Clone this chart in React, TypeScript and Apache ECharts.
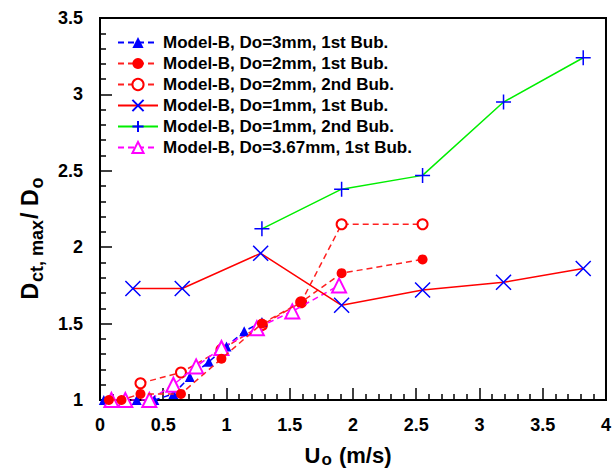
import React, { useEffect, useRef } from "react";
import * as echarts from "echarts";

const FONT = "'Liberation Sans', Arial, sans-serif";

const seriesNames = [
  "Model-B, Do=3mm, 1st Bub.",
  "Model-B, Do=2mm, 1st Bub.",
  "Model-B, Do=2mm, 2nd Bub.",
  "Model-B, Do=1mm, 1st Bub.",
  "Model-B, Do=1mm, 2nd Bub.",
  "Model-B, Do=3.67mm, 1st Bub.",
];

const x3mm1 = [0.03, 0.29, 0.43, 0.58, 0.71, 0.86, 1.0, 1.14, 1.28];
const y3mm1 = [1.0, 1.0, 1.0, 1.04, 1.15, 1.25, 1.35, 1.45, 1.51];

const x2mm1 = [0.07, 0.17, 0.32, 0.64, 0.96, 1.28, 1.59, 1.91, 2.55];
const y2mm1 = [1.0, 1.0, 1.04, 1.04, 1.27, 1.5, 1.64, 1.83, 1.92];

const x2mm2 = [0.32, 0.64, 0.96, 1.28, 1.59, 1.91, 2.55];
const y2mm2 = [1.11, 1.18, 1.33, 1.49, 1.64, 2.15, 2.15];

const x1mm1 = [0.26, 0.65, 1.27, 1.91, 2.55, 3.19, 3.82];
const y1mm1 = [1.73, 1.73, 1.96, 1.62, 1.72, 1.77, 1.86];

const x1mm2 = [1.28, 1.91, 2.55, 3.19, 3.82];
const y1mm2 = [2.12, 2.38, 2.47, 2.95, 3.24];

const x367mm1 = [0.09, 0.2, 0.39, 0.58, 0.76, 0.96, 1.24, 1.52, 1.89];
const y367mm1 = [1.0, 1.0, 1.0, 1.1, 1.22, 1.34, 1.47, 1.58, 1.75];

const xTitle = "{b|U}{s|o}{b| (m/s)}";
const yTitle = "{b|D}{s|ct, max}{b|/ D}{s|o}";

const pairs = (xs: number[], ys: number[]) => xs.map((x, i) => [x, ys[i]]);

const CROSS = "path://M0,0 L10,10 M10,0 L0,10";
const PLUS = "path://M5,0 L5,10 M0,5 L10,5";

export default function App() {
  const ref = useRef<HTMLDivElement>(null);
  useEffect(() => {
    if (!ref.current) return;
    const chart = echarts.init(ref.current, null, { renderer: "svg" });
    const dashed = { type: [6, 4] as any, width: 1.5 };
    const titleRich = (big: number, small: number, drop: number) => ({
      b: { fontSize: big, fontWeight: "bold", fill: "#000", fontFamily: FONT, lineHeight: big + 2, verticalAlign: "top" },
      s: { fontSize: small, fontWeight: "bold", fill: "#000", fontFamily: FONT, lineHeight: small + 1, padding: [drop, 1, 0, 1], verticalAlign: "top" },
    });
    const option: any = {
      animation: false,
      backgroundColor: "#fff",
      textStyle: { fontFamily: FONT },
      grid: {
        left: 100,
        right: 5,
        top: 18,
        bottom: 71,
        show: true,
        borderColor: "#000",
        borderWidth: 2,
        backgroundColor: "transparent",
      },
      legend: {
        orient: "vertical",
        left: 112,
        top: 29,
        itemWidth: 40,
        itemHeight: 14,
        itemGap: 4,
        textStyle: { fontSize: 17, fontWeight: "bold", color: "#000", fontFamily: FONT },
        data: seriesNames,
      },
      graphic: [
        {
          type: "text",
          x: 348,
          y: 456,
          style: { text: xTitle, align: "center", verticalAlign: "middle", rich: titleRich(22, 17, 7) },
        },
        {
          type: "text",
          x: 31,
          y: 238,
          rotation: Math.PI / 2,
          style: { text: yTitle, align: "center", verticalAlign: "middle", rich: titleRich(23, 18, 9) },
        },
      ],
      xAxis: {
        type: "value",
        min: 0,
        max: 4,
        interval: 0.5,
        axisLine: { show: true, lineStyle: { color: "#000", width: 2 } },
        axisTick: { show: true, inside: true, length: 12, lineStyle: { color: "#000", width: 1.5 } },
        minorTick: { show: true, splitNumber: 5, length: 6, lineStyle: { color: "#000", width: 1.5 } },
        splitLine: { show: false },
        axisLabel: {
          fontSize: 18,
          fontWeight: "bold",
          color: "#000",
          fontFamily: FONT,
          margin: 16,
          formatter: (v: number) => String(v),
        },
      },
      yAxis: {
        type: "value",
        min: 1,
        max: 3.5,
        interval: 0.5,
        axisLine: { show: true, lineStyle: { color: "#000", width: 2 } },
        axisTick: { show: true, inside: true, length: 12, lineStyle: { color: "#000", width: 1.5 } },
        minorTick: { show: true, splitNumber: 5, length: 6, lineStyle: { color: "#000", width: 1.5 } },
        splitLine: { show: false },
        axisLabel: {
          fontSize: 18,
          fontWeight: "bold",
          color: "#000",
          fontFamily: FONT,
          margin: 17,
          formatter: (v: number) => String(v),
        },
      },
      series: [
        {
          name: seriesNames[0],
          type: "line",
          data: pairs(x3mm1, y3mm1),
          symbol: "triangle",
          symbolSize: 10,
          itemStyle: { color: "#0000ff" },
          lineStyle: { ...dashed, color: "#0000ff" },
          z: 3,
        },
        {
          name: seriesNames[1],
          type: "line",
          data: pairs(x2mm1, y2mm1),
          symbol: "circle",
          symbolSize: 10,
          itemStyle: { color: "#ff0000" },
          lineStyle: { ...dashed, color: "#ff2020" },
          z: 4,
        },
        {
          name: seriesNames[2],
          type: "line",
          data: pairs(x2mm2, y2mm2),
          symbol: "emptyCircle",
          symbolSize: 10,
          itemStyle: { color: "#ff0000", borderColor: "#ff0000", borderWidth: 1.2 },
          lineStyle: { ...dashed, color: "#ff2020" },
          z: 2,
        },
        {
          name: seriesNames[3],
          type: "line",
          data: pairs(x1mm1, y1mm1),
          symbol: CROSS,
          symbolSize: 15,
          itemStyle: { color: "#0000ff", borderColor: "#0000ff", borderWidth: 1.5 },
          lineStyle: { color: "#ff0000", width: 1.5, type: "solid" },
          z: 5,
        },
        {
          name: seriesNames[4],
          type: "line",
          data: pairs(x1mm2, y1mm2),
          symbol: PLUS,
          symbolSize: 15,
          itemStyle: { color: "#0000ff", borderColor: "#0000ff", borderWidth: 1.5 },
          lineStyle: { color: "#00ee00", width: 1.5, type: "solid" },
          z: 5,
        },
        {
          name: seriesNames[5],
          type: "line",
          data: pairs(x367mm1, y367mm1),
          symbol: "emptyTriangle",
          symbolSize: 14,
          itemStyle: { color: "#ff00ff", borderColor: "#ff00ff", borderWidth: 1.5 },
          lineStyle: { ...dashed, color: "#ff00ff" },
          z: 3,
        },
      ],
    };
    chart.setOption(option);
    return () => chart.dispose();
  }, []);
  return <div ref={ref} style={{ width: 614, height: 471, position: "absolute", left: 0, top: 0 }} />;
}
